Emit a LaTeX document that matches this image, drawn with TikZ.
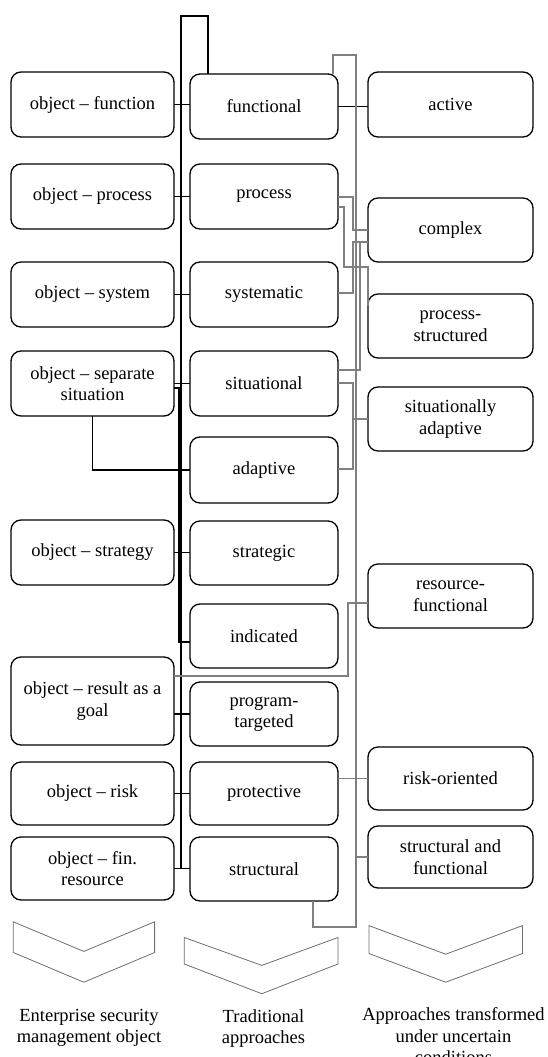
\documentclass[tikz,border=0pt]{standalone}
\usepackage{fontspec}
\setmainfont{Liberation Serif}
\definecolor{linegray}{RGB}{128,128,128}
\definecolor{chevgray}{RGB}{110,110,110}
\begin{document}
\begin{tikzpicture}[x=1pt,y=-1pt,
  box/.style={draw, line width=1.3pt, rounded corners=10pt, inner sep=0pt, outer sep=0pt,
    align=center, font=\fontsize{18.5}{21.5}\selectfont, minimum height=65pt},
  lbox/.style={box, minimum width=163pt},
  mbox/.style={box, minimum width=148pt},
  rbox/.style={box, minimum width=165pt},
  blk/.style={line width=1.2pt, black},
  gry/.style={line width=1.1pt, linegray},
  chev/.style={line width=0.8pt, chevgray, line join=miter},
  lab/.style={align=center, inner sep=0pt, font=\fontsize{18.5}{21.5}\selectfont}]
\useasboundingbox (0,0) rectangle (547,1057);

% left column
\node[lbox] (L1) at (92.5,104.5) {object – function};
\node[lbox] (L2) at (92.5,196.5) {object – process};
\node[lbox] (L3) at (92.5,294.5) {object – system};
\node[lbox] (L4) at (92.5,383.5) {object – separate\\situation};
\node[lbox] (L5) at (92.5,552.5) {object – strategy};
\node[lbox, minimum height=88pt] (L6) at (92.5,701) {object – result as a\\goal};
\node[lbox, minimum height=63pt] (L7) at (92.5,793.5) {object – risk};
\node[lbox, minimum height=63pt] (L8) at (92.5,868.5) {object – fin.\\resource};

% middle column
\node[mbox] (M1) at (264,106.5) {functional};
\node[mbox] (M2) at (264,196.5) {process};
\node[mbox] (M3) at (264,294.5) {systematic};
\node[mbox] (M4) at (264,383.5) {situational};
\node[mbox, minimum height=66pt] (M5) at (264,470) {adaptive};
\node[mbox, minimum height=64pt] (M6) at (264,553) {strategic};
\node[mbox, minimum height=64pt] (M7) at (264,636) {indicated};
\node[mbox, minimum height=64pt] (M8) at (264,714) {program-\\targeted};
\node[mbox, minimum height=63pt] (M9) at (264,793.5) {protective};
\node[mbox, minimum height=64pt] (M10) at (264,869) {structural};

% right column
\node[rbox] (R1) at (450.5,104.5) {active};
\node[rbox, minimum height=64pt] (R2) at (450.5,230) {complex};
\node[rbox, minimum height=64pt] (R3) at (450.5,326) {process-\\structured};
\node[rbox, minimum height=64pt] (R4) at (450.5,419) {situationally\\adaptive};
\node[rbox, minimum height=64pt] (R5) at (450.5,596) {resource-\\functional};
\node[rbox, minimum height=63pt] (R6) at (450.5,778.5) {risk-oriented};
\node[rbox, minimum height=62pt] (R7) at (450.5,857) {structural and\\functional};

% black trunk
\coordinate (tx) at (208,0);
\coordinate (t1) at (208,16);
\coordinate (t2) at (181,16);
\coordinate (t3) at (181,869);
\draw[blk] (tx |- M1.north) -- (t1) -- (t2) -- (t3);

% black stubs
\draw[blk] (L1.east) -- (L1.east -| M1.west);
\draw[blk] (M1.east) -- (M1.east -| R1.west);
\draw[blk] (L2.east) -- (L2.east -| M2.west);
\draw[blk] (L3.east) -- (L3.east -| M3.west);
\draw[blk] (L4.east) -- (L4.east -| M4.west);
\coordinate (s1) at (179,388);
\coordinate (s2) at (179,642);
\draw[blk] (L4.east |- s1) -- (s1) -- (s2) -- (s2 -| M7.west);
\draw[blk] (L4.south) |- (M5.west);
\draw[blk] (L5.east) -- (L5.east -| M6.west);
\draw[blk] (M8.west -| L6.east) -- (M8.west);
\draw[blk] (L7.east) -- (L7.east -| M9.west);
\draw[blk] (L8.east) -- (L8.east -| M10.west);

% gray bus
\coordinate (gx) at (333,0);
\coordinate (g1) at (333,55);
\coordinate (g2) at (356,55);
\coordinate (g3) at (356,927);
\coordinate (g4) at (313,927);
\draw[gry] (gx |- M1.north) -- (g1) -- (g2) -- (g3) -- (g4) -- (g4 |- M10.south);
\draw[gry] (g3 |- R7.west) -- (R7.west);

% gray: process
\coordinate (p1) at (353,197);
\draw[gry] (M2.east |- p1) -- (p1) |- (R2.west);
\coordinate (p2) at (344,207);
\coordinate (p3) at (344,267);
\coordinate (p4) at (368,306);
\draw[gry] (M2.east |- p2) -- (p2) -- (p3) -| (p4);
% gray: systematic
\coordinate (p5) at (353,293);
\coordinate (p6) at (353,242);
\draw[gry] (M3.east |- p5) -- (p5) -- (p6) -- (p6 -| R2.west);
% gray: situational
\coordinate (p7) at (360,370);
\draw[gry] (M4.east |- p7) -- (p7) |- (p6 -| R2.west);
\coordinate (p8) at (353,383);
\coordinate (p9) at (353,469);
\draw[gry] (M4.east |- p8) -- (p8) -- (p9) -- (p9 -| M5.east);
\draw[gry] (p8 |- R4.west) -- (R4.west);
% gray: result as a goal
\coordinate (q1) at (348,676);
\coordinate (q2) at (348,603);
\draw[gry] (L6.east |- q1) -- (q1) -- (q2) -- (q2 -| R5.west);
% gray: protective
\draw[gry] (M9.east |- R6.west) -- (R6.west);

% chevrons
\draw[chev] (13.3,921.8) -- (83.8,951.4) -- (154.6,921.8) -- (154.6,952.5) -- (83.8,982.2) -- (13.3,952.5) -- cycle;
\draw[chev] (184.3,937.5) -- (261.8,965.4) -- (337.9,937.5) -- (337.9,964) -- (261.8,993.7) -- (184.3,964) -- cycle;
\draw[chev] (368.9,925.6) -- (445.7,954.2) -- (522.5,925.6) -- (522.5,953.5) -- (445.7,982.2) -- (368.9,953.5) -- cycle;

% labels
\node[lab] (c1) at (89,1028) {Enterprise security\\management object};
\node[lab] (c2) at (263.5,1028.5) {Traditional\\approaches};
\node[lab] (c3) at (453.5,1036) {Approaches transformed\\under uncertain\\conditions};
\end{tikzpicture}
\end{document}
